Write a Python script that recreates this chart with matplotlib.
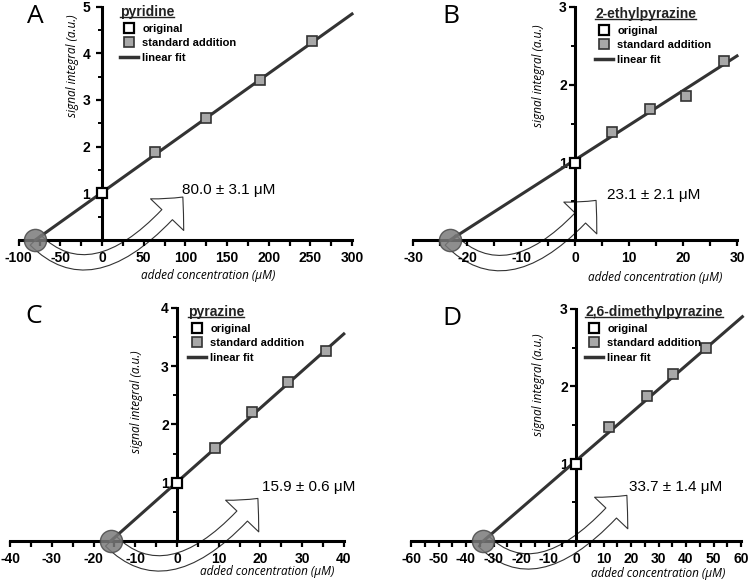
import matplotlib.pyplot as plt
from matplotlib.lines import Line2D
from matplotlib.ticker import MultipleLocator, FixedLocator
from matplotlib.transforms import IdentityTransform

W, H = 753, 588

# values
letters = ["A", "B", "C", "D"]
compounds = ["pyridine", "2-ethylpyrazine", "pyrazine", "2,6-dimethylpyrazine"]
results = ["80.0 ± 3.1 μM", "23.1 ± 2.1 μM", "15.9 ± 0.6 μM", "33.7 ± 1.4 μM"]
x_intercepts = [-80.0, -23.1, -15.9, -33.7]

orig_x = [0, 0, 0, 0]
orig_y = [1.0, 0.99, 0.99, 1.0]

add_x = [
    [63.6, 124.8, 189.7, 251.7],
    [6.9, 13.8, 20.6, 27.6],
    [9.1, 18.1, 26.7, 35.7],
    [12.1, 25.9, 35.4, 47.3],
]
add_y = [
    [1.89, 2.61, 3.43, 4.26],
    [1.39, 1.69, 1.85, 2.30],
    [1.59, 2.22, 2.73, 3.26],
    [1.47, 1.88, 2.16, 2.50],
]

# end of each linear fit (the fit starts at the x intercept, y = 0)
fit_end_x = [300, 30, 40, 60.5]
fit_end_y = [4.84, 2.37, 3.55, 2.90]

x_ranges = [(-100, 300), (-30, 30), (-40, 40), (-60, 60)]
y_max = [5, 3, 4, 3]
x_major = [50, 10, 10, 10]
x_minor = [25, 5, 5, 5]

# where the result text sits and where the curved arrow points
text_pos = [(96, 1.07), (6.0, 0.58), (20.3, 0.93), (19.3, 0.70)]
arrow_tip = [(97, 0.92), (3.9, 0.51), (19.4, 0.73), (18.5, 0.59)]

# axis label placement
ylabel_pos = [(-36, 3.73), (-6.7, 2.12), (-9.6, 2.38), (-13.5, 2.02)]
xlabel_x = [127, 14.8, 21.6, 29.8]
xlabel_drop = [35, 37, 31, 32]

# pixel layout of each panel: x of xmin/xmax, y of 0 and of y_max
px_x = [(18.7, 352.0), (413, 737), (10.2, 343.8), (411, 741)]
px_y = [(240, 6.5), (240, 7), (541, 307.7), (541, 309)]
legend_xy = [(120, 5), (595, 7), (188, 305), (585, 305)]
letter_xy = [(27, 4), (442, 4), (25, 304), (442, 306)]
ytick_pad = [4.5, 2, 2, 2]

line_col = "#333333"
fill_col = "#a8a8a8"
num_font = "Liberation Sans"
lab_font = "Open Sans"

fig = plt.figure(figsize=(W / 100, H / 100), dpi=100)
legends = []

for i in range(4):
    xmin, xmax = x_ranges[i]
    (pl, pr), (p0, ptop) = px_x[i], px_y[i]
    scale = (p0 - ptop) / y_max[i]
    below = 48
    ax = fig.add_axes([pl / W, 1 - (p0 + below) / H, (pr - pl) / W,
                       (p0 + below - ptop) / H])
    ax.set_xlim(xmin, xmax)
    ax.set_ylim(-below / scale, y_max[i])
    ax.patch.set_visible(False)

    for s in ["top", "right"]:
        ax.spines[s].set_visible(False)
    ax.spines["left"].set_position(("data", 0))
    ax.spines["bottom"].set_position(("data", 0))
    ax.spines["left"].set_bounds(0, y_max[i])
    ax.spines["bottom"].set_bounds(xmin, xmax)
    for s in ["left", "bottom"]:
        ax.spines[s].set_linewidth(2.2)

    xt = list(range(xmin, xmax + 1, x_major[i]))
    ax.set_xticks(xt)
    ax.set_xticklabels([str(v) for v in xt], fontweight="bold",
                       family=num_font, fontsize=10)
    yt = list(range(1, y_max[i] + 1))
    ax.set_yticks(yt)
    ax.set_yticklabels([str(v) for v in yt], fontweight="bold",
                       family=num_font, fontsize=10)
    ax.xaxis.set_minor_locator(MultipleLocator(x_minor[i]))
    ax.yaxis.set_minor_locator(
        FixedLocator([k + 0.5 for k in range(y_max[i])]))
    ax.tick_params(axis="x", which="both", direction="out", length=4,
                   width=1.6, pad=4)
    ax.tick_params(axis="y", which="major", direction="out", length=4,
                   width=1.6, pad=ytick_pad[i])
    ax.tick_params(axis="y", which="minor", direction="out", length=3,
                   width=1.4)

    # curved arrow from the x intercept up to the result
    ax.annotate("", xy=arrow_tip[i], xytext=(x_intercepts[i], 0),
                arrowprops=dict(
                    arrowstyle="simple,head_length=17,head_width=33,tail_width=10.5",
                    connectionstyle="angle3,angleA=-45,angleB=50",
                    mutation_scale=1, fc="none", ec=line_col, lw=0.8,
                    shrinkA=0, shrinkB=0),
                zorder=1, annotation_clip=False)

    ax.plot([x_intercepts[i], fit_end_x[i]], [0, fit_end_y[i]], color=line_col,
            lw=2.2, zorder=3, clip_on=False)
    ax.plot(add_x[i], add_y[i], "s", ms=7, mfc=fill_col, mec=line_col,
            mew=1.2, zorder=5, clip_on=False)
    ax.plot(orig_x[i], orig_y[i], "s", ms=6.5, mfc="white", mec="black",
            mew=1.6, zorder=5, clip_on=False)
    ax.plot(x_intercepts[i], 0, "o", ms=16, mfc="#7a7a7a", mec="#4a4a4a",
            mew=1.0, alpha=0.85, zorder=4, clip_on=False)

    ax.text(text_pos[i][0], text_pos[i][1], results[i], ha="left",
            va="center", family=num_font, fontsize=11)
    ax.text(ylabel_pos[i][0], ylabel_pos[i][1], "signal integral (a.u.)",
            rotation=90, ha="center", va="center", family=lab_font,
            style="italic", fontsize=8.5)
    ax.annotate("added concentration (μM)", xy=(xlabel_x[i], 0),
                xytext=(0, -xlabel_drop[i]), textcoords="offset pixels",
                ha="center", va="center", family=lab_font, style="italic",
                fontsize=8.5, annotation_clip=False)

    handles = [
        Line2D([], [], marker="s", ls="none", ms=6.5, mfc="white",
               mec="black", mew=1.6),
        Line2D([], [], marker="s", ls="none", ms=7, mfc=fill_col,
               mec=line_col, mew=1.2),
        Line2D([], [], color=line_col, lw=2.5),
    ]
    lx, ly = legend_xy[i]
    leg = ax.legend(handles, ["original", "standard addition", "linear fit"],
                    title=compounds[i], loc="upper left",
                    bbox_to_anchor=(lx / W, 1 - ly / H),
                    bbox_transform=fig.transFigure, frameon=False,
                    borderpad=0, borderaxespad=0, handlelength=1.6,
                    handletextpad=0.4, labelspacing=0.42, alignment="left",
                    prop=dict(family=num_font, weight="bold", size=8),
                    title_fontproperties=dict(family=num_font, weight="bold",
                                              size=10))
    leg.get_title().set_color("#222222")
    legends.append(leg)

    fig.text(letter_xy[i][0] / W, 1 - letter_xy[i][1] / H, letters[i],
             family=lab_font, fontsize=19, ha="left", va="top")

# underline the legend titles
fig.canvas.draw()
renderer = fig.canvas.get_renderer()
for leg in legends:
    bb = leg.get_title().get_window_extent(renderer)
    fig.add_artist(Line2D([bb.x0, bb.x1], [bb.y0 + 2, bb.y0 + 2],
                          transform=IdentityTransform(), color="#222222",
                          lw=1.0))

fig.savefig("out.png", dpi=100)
